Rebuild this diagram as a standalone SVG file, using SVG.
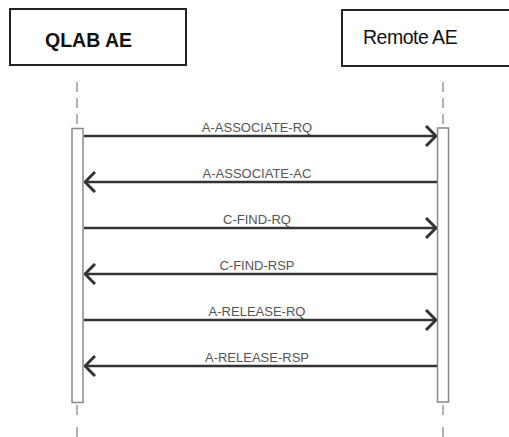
<svg xmlns="http://www.w3.org/2000/svg" width="509" height="437" viewBox="0 0 509 437">
<defs>
<style>
.box{fill:#fff;stroke:#222;stroke-width:2}
.life{stroke:#999;stroke-width:1.5;stroke-dasharray:10 6}
.act{fill:#fff;stroke:#888;stroke-width:1.5}
.msg{stroke:#333;stroke-width:2.5;fill:none}
.lbl{font-family:"Liberation Sans",Arial,sans-serif;font-size:13px;fill:#555;text-anchor:middle}
.title{font-family:"Liberation Sans",Arial,sans-serif;font-size:19.5px;fill:#111}
</style>
<marker id="arr" viewBox="0 0 12 22" refX="11" refY="11" markerWidth="12" markerHeight="22" markerUnits="userSpaceOnUse" orient="auto">
<path d="M1,1 L11,11 L1,21" fill="none" stroke="#333" stroke-width="3"/>
</marker>
</defs>
<rect width="509" height="437" fill="#fff"/>
<g id="qlab">
<line class="life" x1="77" y1="82" x2="77" y2="128"/>
<line class="life" x1="77" y1="405" x2="77" y2="437" style="stroke-dasharray:10 12"/>
<rect class="box" x="10" y="9" width="176" height="56"/>
<text class="title" x="45" y="47" font-weight="bold">QLAB AE</text>
<rect class="act" x="72" y="128.5" width="11" height="274"/>
</g>
<g id="remote">
<line class="life" x1="443" y1="82" x2="443" y2="128"/>
<line class="life" x1="443" y1="405" x2="443" y2="437" style="stroke-dasharray:10 12"/>
<rect class="box" x="342" y="10" width="180" height="56"/>
<text class="title" x="363" y="44" letter-spacing="-0.5">Remote AE</text>
<rect class="act" x="437.5" y="128" width="11" height="274"/>
</g>
<g id="connectors">
<line class="msg" x1="84" y1="136" x2="436" y2="136" marker-end="url(#arr)"/>
<text class="lbl" x="257" y="131.5">A-ASSOCIATE-RQ</text>
<line class="msg" x1="437" y1="182" x2="85" y2="182" marker-end="url(#arr)"/>
<text class="lbl" x="257" y="177.5">A-ASSOCIATE-AC</text>
<line class="msg" x1="84" y1="228" x2="436" y2="228" marker-end="url(#arr)"/>
<text class="lbl" x="257" y="223.5">C-FIND-RQ</text>
<line class="msg" x1="437" y1="274" x2="85" y2="274" marker-end="url(#arr)"/>
<text class="lbl" x="257" y="269.5">C-FIND-RSP</text>
<line class="msg" x1="84" y1="320" x2="436" y2="320" marker-end="url(#arr)"/>
<text class="lbl" x="257" y="315.5">A-RELEASE-RQ</text>
<line class="msg" x1="437" y1="366" x2="85" y2="366" marker-end="url(#arr)"/>
<text class="lbl" x="257" y="361.5">A-RELEASE-RSP</text>
</g>
</svg>
